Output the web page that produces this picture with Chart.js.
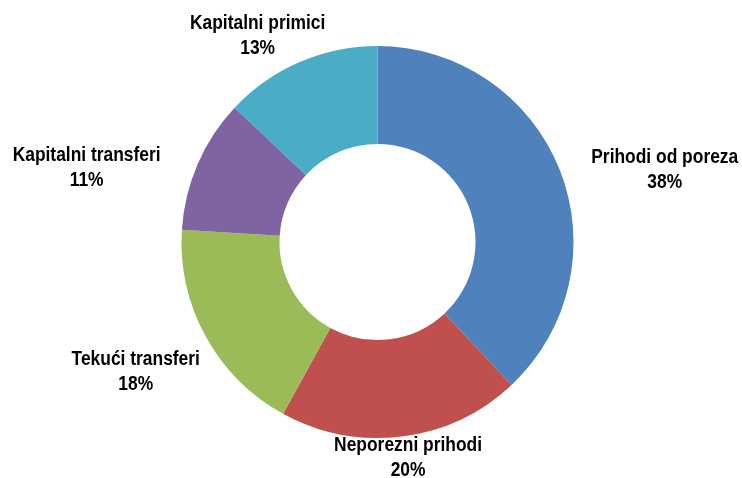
<!DOCTYPE html>
<html>
<head>
<meta charset="utf-8">
<script src="https://cdn.jsdelivr.net/npm/chart.js@4"></script>
<style>
  body { margin: 0; background: #fff; }
  #wrap { width: 742px; height: 478px; }
</style>
</head>
<body>
<div id="wrap"><canvas id="chart" width="742" height="478"></canvas></div>
<script>
// Data
const categories = ['Prihodi od poreza', 'Neporezni prihodi', 'Tekući transferi', 'Kapitalni transferi', 'Kapitalni primici'];
const shares = [38, 20, 18, 11, 13];
const colors = ['#4F81BD', '#C0504D', '#9BBB59', '#8064A2', '#4BACC6'];

// Label nudges from the outer edge of each slice (dx, dy)
const labelNudge = [[105, 0], [6, 21], [-70, 35], [-111, 3], [-42, -27]];

// Draw "name / pct%" labels outside each slice (narrow bold look)
const outsideLabels = {
    id: 'outsideLabels',
    afterDatasetsDraw(chart) {
        const ctx = chart.ctx;
        const meta = chart.getDatasetMeta(0);
        const total = shares.reduce((s, v) => s + v, 0);
        meta.data.forEach((arc, i) => {
            const mid = (arc.startAngle + arc.endAngle) / 2;
            const x = arc.x + Math.cos(mid) * arc.outerRadius + labelNudge[i][0];
            const y = arc.y + Math.sin(mid) * arc.outerRadius + labelNudge[i][1];
            const pct = Math.round(shares[i] / total * 100) + '%';
            ctx.save();
            ctx.translate(x, y);
            ctx.scale(0.87, 1);
            ctx.fillStyle = '#000';
            ctx.textAlign = 'center';
            ctx.textBaseline = 'middle';
            ctx.font = 'bold 20px "Liberation Sans", Arial, sans-serif';
            ctx.fillText(categories[i], 0, -12);
            ctx.fillText(pct, 0, 13);
            ctx.restore();
        });
    }
};

new Chart(document.getElementById('chart'), {
    type: 'doughnut',
    data: {
        labels: categories,
        datasets: [{
            data: shares,
            backgroundColor: colors,
            borderWidth: 0
        }]
    },
    options: {
        responsive: false,
        animation: false,
        cutout: '50%',
        layout: { padding: { left: 181, right: 168, top: 46, bottom: 40 } },
        plugins: {
            legend: { display: false },
            tooltip: { enabled: false }
        }
    },
    plugins: [outsideLabels]
});
</script>
</body>
</html>
